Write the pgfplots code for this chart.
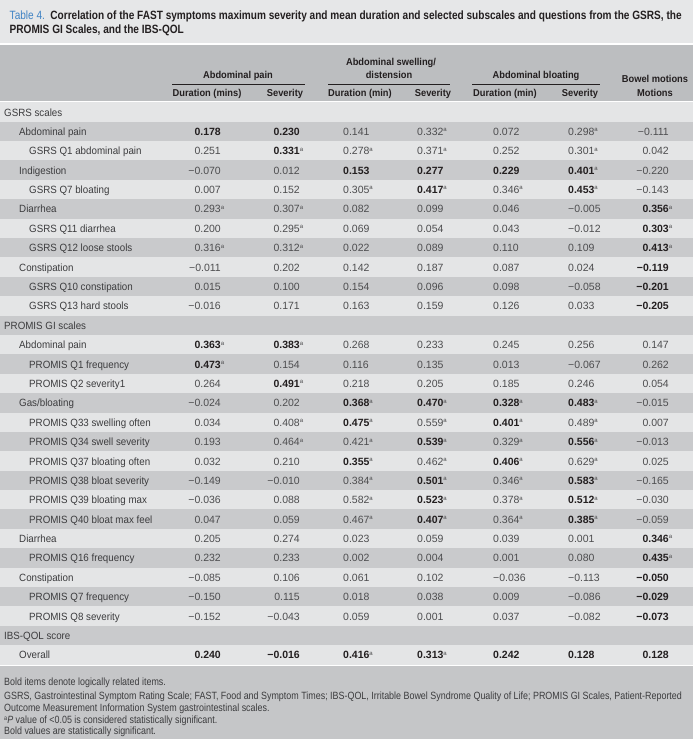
\documentclass[border=0pt]{standalone}
\usepackage{fontspec}
\usepackage{pgfplots}
\usepackage{pgfplotstable}
\pgfplotsset{compat=1.18}
\setmainfont{Liberation Sans}
\newfontfamily\lblf{Liberation Sans}[FakeStretch=0.93]
\newfontfamily\hdrf{Liberation Sans}[FakeStretch=0.93]
\newfontfamily\titf{Liberation Sans}[FakeStretch=0.84]
\newfontfamily\fnf{Liberation Sans}[FakeStretch=0.85]
\newfontfamily\numf{Liberation Sans}
\definecolor{bgl}{HTML}{E6E7E8}
\definecolor{hdr}{HTML}{BCBEC0}
\definecolor{rowl}{HTML}{E4E5E6}
\definecolor{rowd}{HTML}{C9CACC}
\definecolor{fnbg}{HTML}{C5C6C8}
\definecolor{txt}{HTML}{4D4D4F}
\definecolor{lab}{HTML}{3C3C3E}
\definecolor{dark}{HTML}{231F20}
\definecolor{tblue}{HTML}{3F83C4}
\protected\def\sa{\rlap{\raisebox{3.6pt}{\fontsize{6}{6}\selectfont\color{txt}a}}}
\protected\def\B#1{{\bfseries\color{dark}#1}}

\pgfplotstableread[col sep=comma]{
row,c1,c2,c3,c4,c5,c6,c7
1,\B{0.178},\B{0.230},0.141,0.332\sa,0.072,0.298\sa,−0.111
2,0.251,\B{0.331}\sa,0.278\sa,0.371\sa,0.252,0.301\sa,0.042
3,−0.070,0.012,\B{0.153},\B{0.277},\B{0.229},\B{0.401}\sa,−0.220
4,0.007,0.152,0.305\sa,\B{0.417}\sa,0.346\sa,\B{0.453}\sa,−0.143
5,0.293\sa,0.307\sa,0.082,0.099,0.046,−0.005,\B{0.356}\sa
6,0.200,0.295\sa,0.069,0.054,0.043,−0.012,\B{0.303}\sa
7,0.316\sa,0.312\sa,0.022,0.089,0.110,0.109,\B{0.413}\sa
8,−0.011,0.202,0.142,0.187,0.087,0.024,\B{−0.119}
9,0.015,0.100,0.154,0.096,0.098,−0.058,\B{−0.201}
10,−0.016,0.171,0.163,0.159,0.126,0.033,\B{−0.205}
12,\B{0.363}\sa,\B{0.383}\sa,0.268,0.233,0.245,0.256,0.147
13,\B{0.473}\sa,0.154,0.116,0.135,0.013,−0.067,0.262
14,0.264,\B{0.491}\sa,0.218,0.205,0.185,0.246,0.054
15,−0.024,0.202,\B{0.368}\sa,\B{0.470}\sa,\B{0.328}\sa,\B{0.483}\sa,−0.015
16,0.034,0.408\sa,\B{0.475}\sa,0.559\sa,\B{0.401}\sa,0.489\sa,0.007
17,0.193,0.464\sa,0.421\sa,\B{0.539}\sa,0.329\sa,\B{0.556}\sa,−0.013
18,0.032,0.210,\B{0.355}\sa,0.462\sa,\B{0.406}\sa,0.629\sa,0.025
19,−0.149,−0.010,0.384\sa,\B{0.501}\sa,0.346\sa,\B{0.583}\sa,−0.165
20,−0.036,0.088,0.582\sa,\B{0.523}\sa,0.378\sa,\B{0.512}\sa,−0.030
21,0.047,0.059,0.467\sa,\B{0.407}\sa,0.364\sa,\B{0.385}\sa,−0.059
22,0.205,0.274,0.023,0.059,0.039,0.001,\B{0.346}\sa
23,0.232,0.233,0.002,0.004,0.001,0.080,\B{0.435}\sa
24,−0.085,0.106,0.061,0.102,−0.036,−0.113,\B{−0.050}
25,−0.150,0.115,0.018,0.038,0.009,−0.086,\B{−0.029}
26,−0.152,−0.043,0.059,0.001,0.037,−0.082,\B{−0.073}
28,\B{0.240},\B{−0.016},\B{0.416}\sa,\B{0.313}\sa,\B{0.242},\B{0.128},\B{0.128}
}\datatab

\newcommand\lab[3]{\node[anchor=base west,inner sep=0pt,text=lab,font=\lblf\fontsize{10.5}{12}\selectfont] at (axis cs:#2,{116+19.39*#1}) {#3};}
\newcommand\hd[3]{\node[anchor=base,inner sep=0pt,text=dark,font=\hdrf\bfseries\fontsize{10}{12}\selectfont] at (axis cs:#1,#2) {#3};}

\pgfplotsset{numcol/.style={draw=none, mark=none, nodes near coords, point meta=explicit symbolic,
  every node near coord/.append style={anchor=#1, inner sep=0pt, text=txt, font=\numf\fontsize{10.5}{12}\selectfont}}}

\begin{document}
\begin{tikzpicture}
\begin{axis}[width=693pt,height=739pt,scale only axis,
  xmin=0,xmax=693,ymin=0,ymax=739,y dir=reverse,
  axis lines=none,clip=false,enlargelimits=false]
% backgrounds
\fill[bgl] (axis cs:0,0) rectangle (axis cs:693,739);
\fill[white] (axis cs:0,42.8) rectangle (axis cs:693,45);
\fill[hdr] (axis cs:0,45) rectangle (axis cs:693,100.8);
\fill[white] (axis cs:0,100.8) rectangle (axis cs:693,102.3);
\pgfplotsinvokeforeach{0,2,...,28}{\fill[rowl] (axis cs:0,{102.3+19.39*#1}) rectangle (axis cs:693,{102.3+19.39*(#1+1)});}
\pgfplotsinvokeforeach{1,3,...,27}{\fill[rowd] (axis cs:0,{102.3+19.39*#1}) rectangle (axis cs:693,{102.3+19.39*(#1+1)});}
\fill[white] (axis cs:0,664.6) rectangle (axis cs:693,666.4);
\fill[fnbg] (axis cs:0,666.4) rectangle (axis cs:693,739);
% title
\node[anchor=base west,inner sep=0pt,font=\titf\fontsize{12}{14}\selectfont] at (axis cs:9.5,19.5)
  {\textcolor{tblue}{Table 4.}\hspace{0.45em}\textcolor{dark}{\bfseries Correlation of the FAST symptoms maximum severity and mean duration and selected subscales and questions from the GSRS, the}};
\node[anchor=base west,inner sep=0pt,font=\titf\bfseries\fontsize{12}{14}\selectfont,text=dark] at (axis cs:9.5,33.8)
  {PROMIS GI Scales, and the IBS-QOL};
% header
\hd{238}{78.6}{Abdominal pain}
\hd{391}{65.2}{Abdominal swelling/}
\hd{389}{78.6}{distension}
\hd{536}{78.6}{Abdominal bloating}
\hd{655}{82.5}{Bowel motions}
\hd{207}{96.3}{Duration (mins)}
\hd{285}{96.3}{Severity}
\hd{360}{96.3}{Duration (min)}
\hd{433}{96.3}{Severity}
\hd{505}{96.3}{Duration (min)}
\hd{580}{96.3}{Severity}
\hd{655}{96.3}{Motions}
\draw[dark,line width=0.8pt] (axis cs:172,84.6) -- (axis cs:305,84.6);
\draw[dark,line width=0.8pt] (axis cs:328,84.6) -- (axis cs:450,84.6);
\draw[dark,line width=0.8pt] (axis cs:472,84.6) -- (axis cs:600,84.6);
% row labels
\lab{0}{4}{GSRS scales}
\lab{1}{19}{Abdominal pain}
\lab{2}{29}{GSRS Q1 abdominal pain}
\lab{3}{19}{Indigestion}
\lab{4}{29}{GSRS Q7 bloating}
\lab{5}{19}{Diarrhea}
\lab{6}{29}{GSRS Q11 diarrhea}
\lab{7}{29}{GSRS Q12 loose stools}
\lab{8}{19}{Constipation}
\lab{9}{29}{GSRS Q10 constipation}
\lab{10}{29}{GSRS Q13 hard stools}
\lab{11}{4}{PROMIS GI scales}
\lab{12}{19}{Abdominal pain}
\lab{13}{29}{PROMIS Q1 frequency}
\lab{14}{29}{PROMIS Q2 severity1}
\lab{15}{19}{Gas/bloating}
\lab{16}{29}{PROMIS Q33 swelling often}
\lab{17}{29}{PROMIS Q34 swell severity}
\lab{18}{29}{PROMIS Q37 bloating often}
\lab{19}{29}{PROMIS Q38 bloat severity}
\lab{20}{29}{PROMIS Q39 bloating max}
\lab{21}{29}{PROMIS Q40 bloat max feel}
\lab{22}{19}{Diarrhea}
\lab{23}{29}{PROMIS Q16 frequency}
\lab{24}{19}{Constipation}
\lab{25}{29}{PROMIS Q7 frequency}
\lab{26}{29}{PROMIS Q8 severity}
\lab{27}{4}{IBS-QOL score}
\lab{28}{19}{Overall}
% data columns
\addplot[numcol={base east}] table[x expr=221, y expr={116+19.39*\thisrow{row}}, meta=c1] {\datatab};
\addplot[numcol={base east}] table[x expr=300, y expr={116+19.39*\thisrow{row}}, meta=c2] {\datatab};
\addplot[numcol={base west}] table[x expr=343, y expr={116+19.39*\thisrow{row}}, meta=c3] {\datatab};
\addplot[numcol={base west}] table[x expr=417, y expr={116+19.39*\thisrow{row}}, meta=c4] {\datatab};
\addplot[numcol={base west}] table[x expr=493, y expr={116+19.39*\thisrow{row}}, meta=c5] {\datatab};
\addplot[numcol={base west}] table[x expr=568, y expr={116+19.39*\thisrow{row}}, meta=c6] {\datatab};
\addplot[numcol={base east}] table[x expr=669, y expr={116+19.39*\thisrow{row}}, meta=c7] {\datatab};
% footnotes
\begin{scope}[every node/.style={anchor=base west,inner sep=0pt,text=lab,font=\fnf\fontsize{10.5}{12}\selectfont}]
\node at (axis cs:4,685) {Bold items denote logically related items.};
\node at (axis cs:4,699.5) {GSRS, Gastrointestinal Symptom Rating Scale; FAST, Food and Symptom Times; IBS-QOL, Irritable Bowel Syndrome Quality of Life; PROMIS GI Scales, Patient-Reported};
\node at (axis cs:4,711.5) {Outcome Measurement Information System gastrointestinal scales.};
\node at (axis cs:4,723) {\raisebox{3pt}{\fontsize{6.5}{6.5}\selectfont a}\textit{P} value of <0.05 is considered statistically significant.};
\node at (axis cs:4,734.5) {Bold values are statistically significant.};
\end{scope}
\end{axis}
\pgfresetboundingbox
\path (0,0) rectangle (693pt,739pt);
\end{tikzpicture}
\end{document}
